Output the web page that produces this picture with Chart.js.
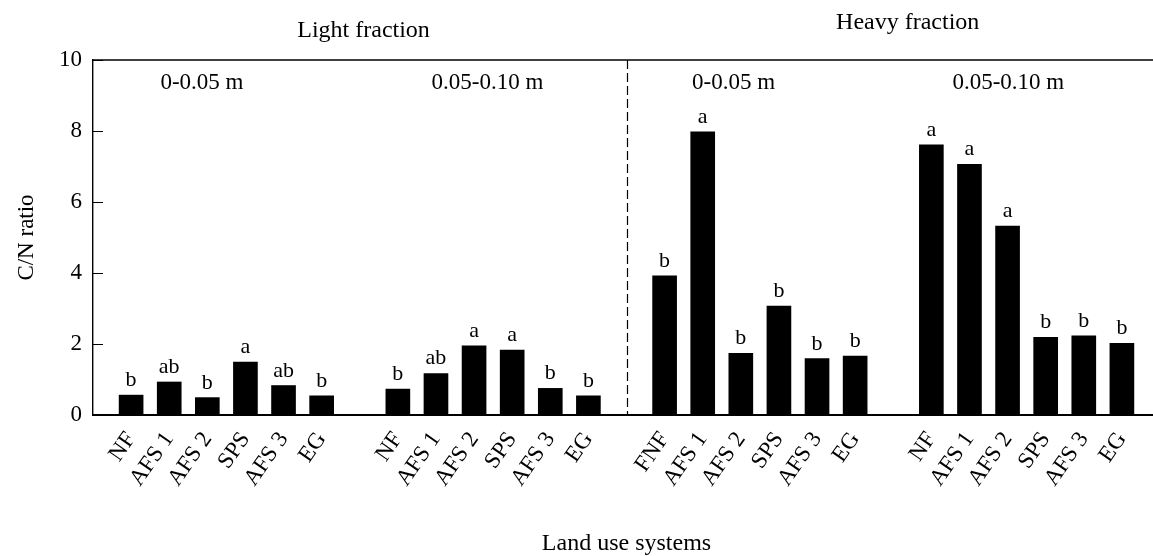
<!DOCTYPE html>
<html>
<head>
<meta charset="utf-8">
<script src="https://cdn.jsdelivr.net/npm/chart.js@4"></script>
<style>
  html, body { margin: 0; padding: 0; background: #fff; overflow: hidden; }
  #wrap { width: 1165px; height: 556px; }
</style>
</head>
<body>
<div id="wrap"><canvas id="cnChart" width="1165" height="556"></canvas></div>
<script>
// land use systems per panel
const systems = ['NF', 'AFS 1', 'AFS 2', 'SPS', 'AFS 3', 'EG'];
const systemsHeavyTop = ['FNF', 'AFS 1', 'AFS 2', 'SPS', 'AFS 3', 'EG'];

// C/N ratio
const lightTop = [0.56, 0.93, 0.49, 1.49, 0.83, 0.54];   // light fraction 0-0.05 m
const lightSub = [0.73, 1.17, 1.95, 1.83, 0.75, 0.54];   // light fraction 0.05-0.10 m
const heavyTop = [3.92, 7.98, 1.74, 3.07, 1.59, 1.66];   // heavy fraction 0-0.05 m
const heavySub = [7.61, 7.06, 5.32, 2.19, 2.23, 2.02];   // heavy fraction 0.05-0.10 m

// significance letters
const lettersLightTop = ['b', 'ab', 'b', 'a', 'ab', 'b'];
const lettersLightSub = ['b', 'ab', 'a', 'a', 'b', 'b'];
const lettersHeavyTop = ['b', 'a', 'b', 'b', 'b', 'b'];
const lettersHeavySub = ['a', 'a', 'a', 'b', 'b', 'b'];

const yTicks = [0, 2, 4, 6, 8, 10];
const depthLabels = ['0-0.05 m', '0.05-0.10 m', '0-0.05 m', '0.05-0.10 m'];
const fractionLabels = ['Light fraction', 'Heavy fraction'];

// one blank slot before, between and after the groups
const labels = [''].concat(systems, [''], systems, [''], systemsHeavyTop, [''], systems, ['']);
const values = [null].concat(lightTop, [null], lightSub, [null], heavyTop, [null], heavySub, [null]);
const letters = [''].concat(lettersLightTop, [''], lettersLightSub, [''], lettersHeavyTop, [''], lettersHeavySub, ['']);
const dividerIndex = 1 + systems.length * 2 + 1;   // blank slot between light and heavy

const serif = '"Liberation Serif", "Times New Roman", serif';

const extras = {
  id: 'extras',
  afterDatasetsDraw(chart) {
    const { ctx, chartArea: a, scales: { x, y } } = chart;
    ctx.save();
    ctx.strokeStyle = '#000';
    ctx.fillStyle = '#000';

    // top frame line
    ctx.lineWidth = 1.4;
    ctx.beginPath();
    ctx.moveTo(a.left, a.top);
    ctx.lineTo(a.right + 5, a.top);
    ctx.stroke();

    // tick marks pointing into the plot
    ctx.lineWidth = 1;
    ctx.beginPath();
    yTicks.forEach(v => {
      const py = Math.round(y.getPixelForValue(v)) + 0.5;
      ctx.moveTo(a.left, py);
      ctx.lineTo(a.left + 10, py);
    });
    ctx.stroke();

    // dashed divider between fractions
    const dx = Math.round(x.getPixelForValue(dividerIndex)) + 0.5;
    ctx.setLineDash([9, 4]);
    ctx.lineWidth = 1.2;
    ctx.beginPath();
    ctx.moveTo(dx, a.top);
    ctx.lineTo(dx, a.bottom);
    ctx.stroke();
    ctx.setLineDash([]);

    // letters above bars
    ctx.font = '22px ' + serif;
    ctx.textAlign = 'center';
    ctx.textBaseline = 'alphabetic';
    chart.getDatasetMeta(0).data.forEach((bar, i) => {
      if (letters[i]) ctx.fillText(letters[i], bar.x, bar.y - 9);
    });

    // depth labels inside plot
    ctx.font = '23px ' + serif;
    ctx.textBaseline = 'middle';
    [2.86, 10.35, 16.81, 24.02].forEach((pos, i) => {
      ctx.fillText(depthLabels[i], x.getPixelForValue(pos), a.top + 23);
    });

    // fraction titles above the frame
    ctx.font = '24px ' + serif;
    ctx.fillText(fractionLabels[0], x.getPixelForValue(7.1), a.top - 29);
    ctx.fillText(fractionLabels[1], x.getPixelForValue(21.38), a.top - 37);
    ctx.restore();
  }
};

new Chart(document.getElementById('cnChart'), {
  type: 'bar',
  data: {
    labels: labels,
    datasets: [{
      data: values,
      backgroundColor: '#000',
      borderWidth: 0,
      barThickness: 24
    }]
  },
  options: {
    responsive: false,
    animation: false,
    devicePixelRatio: 1,
    layout: { padding: { top: 60, right: 5, bottom: 0, left: 0 } },
    plugins: {
      legend: { display: false },
      tooltip: { enabled: false }
    },
    scales: {
      x: {
        offset: false,
        grid: { display: false },
        border: { display: true, color: '#000', width: 2 },
        ticks: {
          color: '#000',
          autoSkip: false,
          minRotation: 55,
          maxRotation: 55,
          padding: 4,
          font: { family: serif, size: 23 }
        },
        title: {
          display: true,
          text: 'Land use systems',
          color: '#000',
          font: { family: serif, size: 24, lineHeight: 1 },
          padding: { top: 0, bottom: 0 }
        },
        afterFit(scale) {
          scale.height = 141;
          scale.paddingLeft = 0;
          scale.paddingRight = 0;
        }
      },
      y: {
        min: 0,
        max: 10,
        grid: { display: false, drawTicks: false },
        border: { display: true, color: '#000', width: 1.4 },
        ticks: {
          stepSize: 2,
          color: '#000',
          padding: 11,
          font: { family: serif, size: 23 }
        },
        title: {
          display: true,
          text: 'C/N ratio',
          color: '#000',
          font: { family: serif, size: 23, lineHeight: 1.2 },
          padding: { top: 13, bottom: 0 }
        },
        afterFit(scale) { scale.width = 93; }
      }
    }
  },
  plugins: [extras]
});
</script>
</body>
</html>
